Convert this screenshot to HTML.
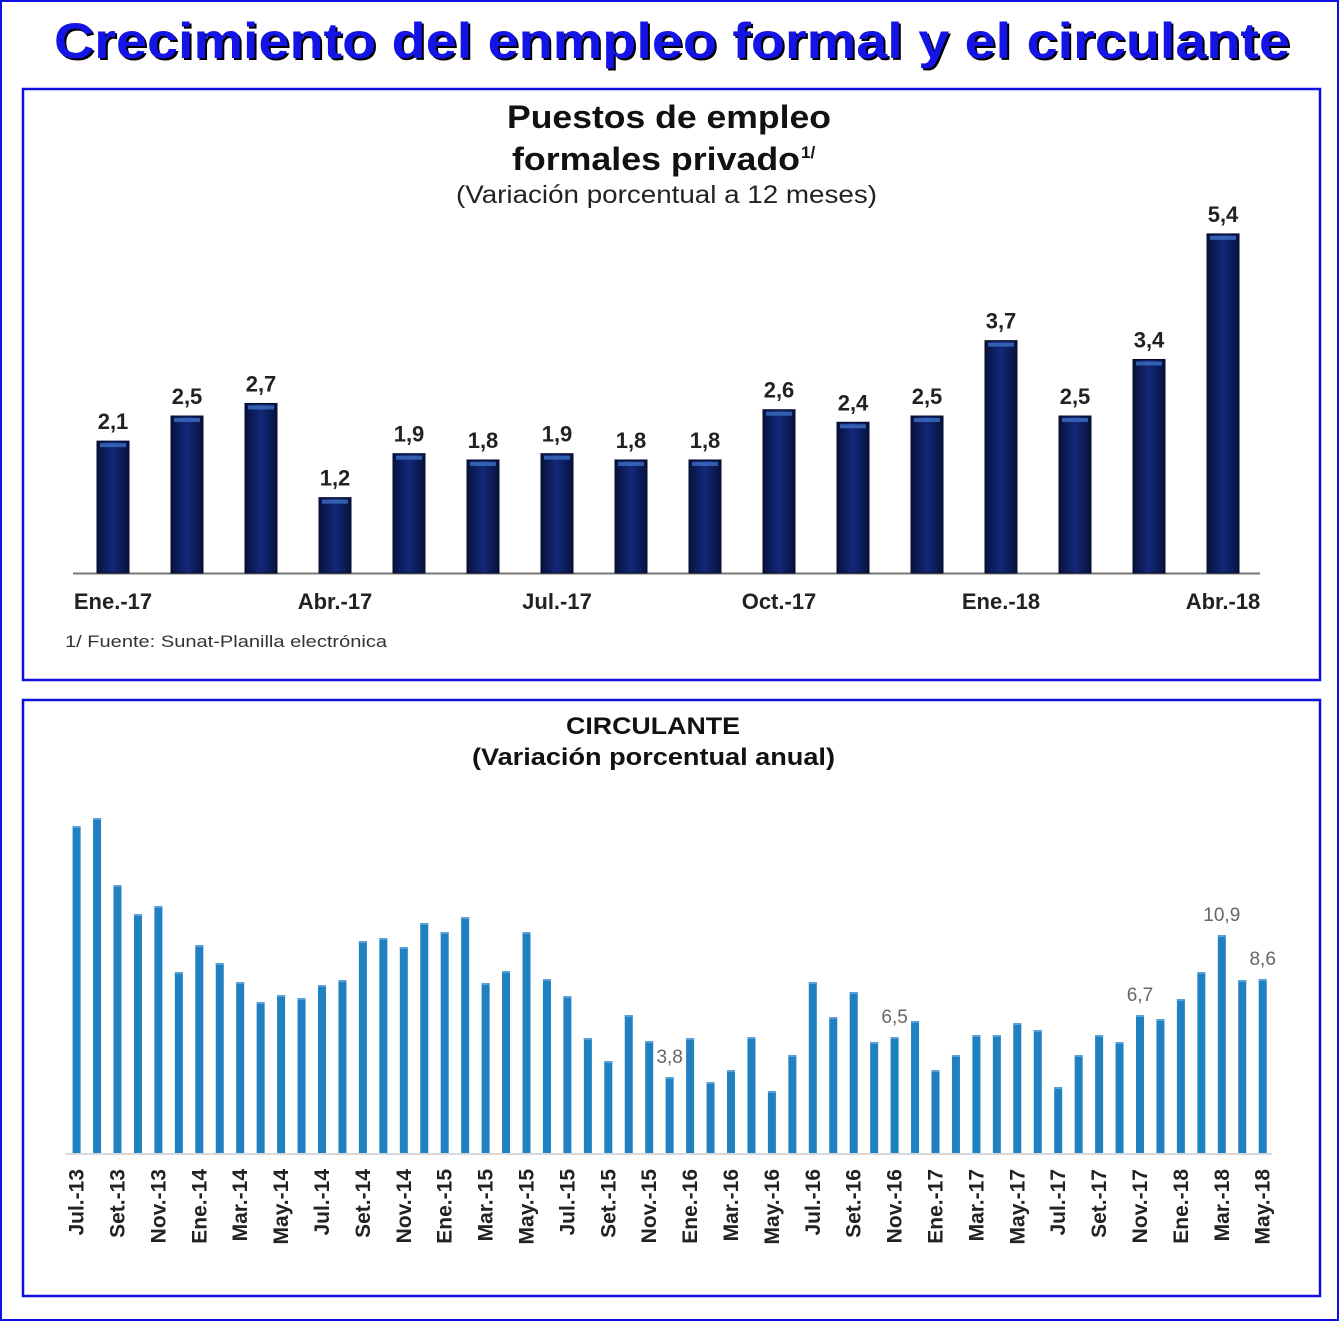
<!DOCTYPE html>
<html><head><meta charset="utf-8"><style>
html,body{margin:0;padding:0;background:#fff}
svg{display:block}
</style></head><body>
<svg id="s" width="1339" height="1321" viewBox="0 0 1339 1321" xmlns="http://www.w3.org/2000/svg" font-family="Liberation Sans, sans-serif">
<defs>
<linearGradient id="g1" x1="0" x2="1" y1="0" y2="0">
<stop offset="0" stop-color="#07123d"/><stop offset="0.5" stop-color="#13287a"/><stop offset="1" stop-color="#07123d"/>
</linearGradient>
</defs>
<rect x="1" y="1" width="1337" height="1319" fill="#fff" stroke="#1010e0" stroke-width="2"/>
<text x="672" y="58" text-anchor="middle" font-weight="bold" font-size="50" fill="#000" textLength="1236" lengthAdjust="spacingAndGlyphs" transform="translate(2,2)">Crecimiento del enmpleo formal y el circulante</text>
<text x="672" y="58" text-anchor="middle" font-weight="bold" font-size="50" fill="#1414e6" textLength="1236" lengthAdjust="spacingAndGlyphs">Crecimiento del enmpleo formal y el circulante</text>
<rect x="23" y="89" width="1297" height="591" fill="#fff" stroke="#1010e0" stroke-width="2.5"/>
<rect x="23" y="700" width="1297" height="596" fill="#fff" stroke="#1010e0" stroke-width="2.5"/>
<text x="507" y="128" font-weight="bold" font-size="32" fill="#111" textLength="324" lengthAdjust="spacingAndGlyphs">Puestos de empleo</text>
<text x="512" y="170" font-weight="bold" font-size="32" fill="#111" textLength="288" lengthAdjust="spacingAndGlyphs">formales privado</text>
<text x="801" y="158" font-weight="bold" font-size="17" fill="#111">1/</text>
<text x="456" y="203" font-size="25" fill="#222" textLength="421" lengthAdjust="spacingAndGlyphs">(Variación porcentual  a 12 meses)</text>
<line x1="73" y1="573.5" x2="1260" y2="573.5" stroke="#777" stroke-width="2"/>
<g id="topg"></g>
<text x="65" y="647" font-size="17" fill="#333" textLength="322" lengthAdjust="spacingAndGlyphs">1/ Fuente: Sunat-Planilla  electrónica</text>
<text x="566" y="734" font-weight="bold" font-size="24" fill="#111" textLength="174" lengthAdjust="spacingAndGlyphs">CIRCULANTE</text>
<text x="472" y="765" font-weight="bold" font-size="24" fill="#111" textLength="363" lengthAdjust="spacingAndGlyphs">(Variación porcentual anual)</text>
<line x1="65" y1="1154" x2="1272" y2="1154" stroke="#d8d8d8" stroke-width="2"/>
<g id="botg"></g>
</svg>
<script>
(function(){
var NS="http://www.w3.org/2000/svg";
function el(p,t,a,txt){var e=document.createElementNS(NS,t);for(var k in a)e.setAttribute(k,a[k]);if(txt!=null)e.textContent=txt;p.appendChild(e);return e;}
var tg=document.getElementById("topg");
var v=[2.1,2.5,2.7,1.2,1.9,1.8,1.9,1.8,1.8,2.6,2.4,2.5,3.7,2.5,3.4,5.4];
var lab={0:"Ene.-17",3:"Abr.-17",6:"Jul.-17",9:"Oct.-17",12:"Ene.-18",15:"Abr.-18"};
for(var i=0;i<v.length;i++){var cx=113+i*74,h=v[i]*62.8,y=573-h;
el(tg,"rect",{x:cx-16,y:y,width:32,height:h,fill:"url(#g1)",stroke:"#050c2a","stroke-width":1});
el(tg,"rect",{x:cx-13,y:y+2,width:26,height:4,fill:"#3d6fc4",opacity:0.8});
el(tg,"text",{x:cx,y:y-12,"text-anchor":"middle","font-weight":"bold","font-size":22,fill:"#222"},v[i].toFixed(1).replace(".",","));
if(lab[i])el(tg,"text",{x:cx,y:609,"text-anchor":"middle","font-weight":"bold","font-size":22,fill:"#222"},lab[i]);}
var bg=document.getElementById("botg");
var t=[826,818,885,914,906,972,945,963,982,1002,995,998,985,980,941,938,947,923,932,917,983,971,932,979,996,1038,1061,1015,1041,1077,
1038,1082,1070,1037,1091,1055,982,1017,992,1042,1037,1021,1070,1055,1035,1035,1023,1030,1087,1055,1035,1042,1015,1019,999,972,935,980,979];
var m=["Ene.","Feb.","Mar.","Abr.","May.","Jun.","Jul.","Ago.","Set.","Oct.","Nov.","Dic."];
var vl={29:"3,8",40:"6,5",52:"6,7",56:"10,9",58:"8,6"};
for(var i=0;i<t.length;i++){var cx=76.6+i*20.45;
el(bg,"rect",{x:cx-4,y:t[i],width:8,height:1153-t[i],fill:"#1f80c2"});
el(bg,"rect",{x:cx-4,y:t[i],width:8,height:2,fill:"#5aa0d6"});
if(vl[i])el(bg,"text",{x:cx,y:t[i]-14,"text-anchor":"middle","font-size":19,fill:"#666"},vl[i]);
if(i%2==0){var mo=(6+i)%12,yr=13+Math.floor((6+i)/12);
el(bg,"text",{x:0,y:0,"text-anchor":"end","font-weight":"bold","font-size":21,fill:"#222",transform:"translate("+(cx+7)+",1169) rotate(-90)"},m[mo]+"-"+yr);}}
})();
</script>
</body></html>
